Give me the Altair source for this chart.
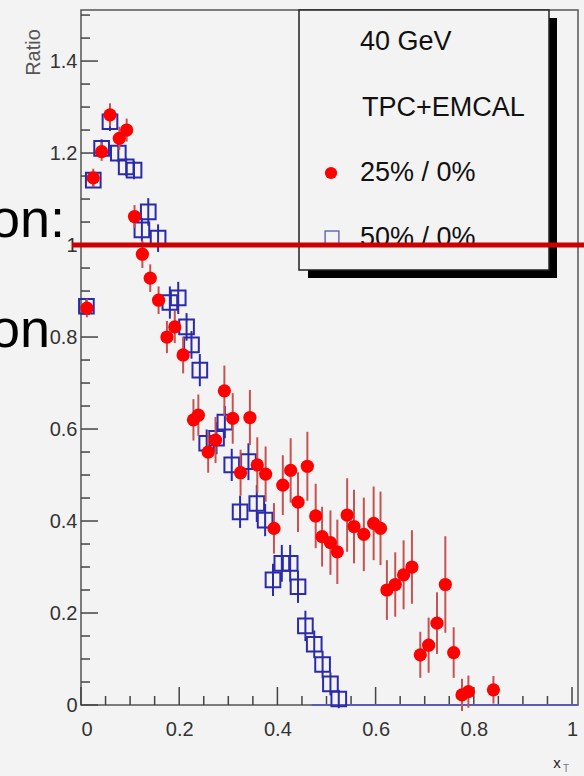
import altair as alt
import pandas as pd

# --- ratio data: 25%/0% centrality (red dots) ---
red_x = [0.012, 0.025, 0.042, 0.059, 0.078, 0.093, 0.109, 0.125, 0.141, 0.158,
         0.175, 0.191, 0.208, 0.229, 0.239, 0.259, 0.274, 0.292, 0.309, 0.325,
         0.344, 0.359, 0.376, 0.393, 0.411, 0.427, 0.442, 0.461, 0.478, 0.491,
         0.508, 0.522, 0.542, 0.556, 0.576, 0.596, 0.610, 0.623, 0.640, 0.657,
         0.674, 0.691, 0.708, 0.725, 0.742, 0.759, 0.776, 0.789, 0.840]
red_y = [0.863, 1.146, 1.203, 1.283, 1.232, 1.250, 1.062, 0.980, 0.928, 0.880,
         0.800, 0.822, 0.761, 0.620, 0.630, 0.550, 0.576, 0.683, 0.623, 0.505,
         0.625, 0.522, 0.502, 0.384, 0.478, 0.510, 0.441, 0.519, 0.411, 0.366,
         0.353, 0.333, 0.413, 0.388, 0.371, 0.395, 0.384, 0.250, 0.262, 0.283,
         0.300, 0.109, 0.130, 0.178, 0.262, 0.114, 0.022, 0.029, 0.033]
red_err = [0.020, 0.020, 0.020, 0.025, 0.025, 0.025, 0.025, 0.030, 0.030, 0.030,
           0.035, 0.035, 0.040, 0.045, 0.045, 0.045, 0.050, 0.055, 0.055, 0.050,
           0.060, 0.060, 0.060, 0.055, 0.065, 0.070, 0.065, 0.075, 0.070, 0.065,
           0.070, 0.070, 0.080, 0.080, 0.080, 0.080, 0.080, 0.065, 0.070, 0.075,
           0.080, 0.050, 0.060, 0.067, 0.105, 0.055, 0.035, 0.035, 0.030]

# --- ratio data: 50%/0% centrality (blue open squares) ---
blue_x = [0.011, 0.025, 0.042, 0.059, 0.076, 0.092, 0.108, 0.124, 0.137, 0.157,
          0.181, 0.198, 0.215, 0.225, 0.242, 0.256, 0.276, 0.293, 0.307, 0.324,
          0.341, 0.358, 0.375, 0.391, 0.409, 0.426, 0.442, 0.457, 0.475, 0.492,
          0.508, 0.525]
blue_y = [0.867, 1.141, 1.210, 1.268, 1.200, 1.170, 1.163, 1.033, 1.072, 1.015,
          0.875, 0.885, 0.822, 0.783, 0.728, 0.569, 0.580, 0.615, 0.522, 0.420,
          0.529, 0.438, 0.402, 0.272, 0.308, 0.308, 0.257, 0.172, 0.132, 0.088,
          0.046, 0.013]
blue_err = [0.015, 0.015, 0.020, 0.020, 0.020, 0.020, 0.020, 0.025, 0.030, 0.030,
            0.035, 0.035, 0.030, 0.030, 0.035, 0.030, 0.035, 0.035, 0.035, 0.035,
            0.040, 0.040, 0.035, 0.035, 0.040, 0.040, 0.035, 0.033, 0.030, 0.030,
            0.025, 0.020]

# axis ticks
x_major = [0, 0.2, 0.4, 0.6, 0.8, 1.0]
y_major = [0, 0.2, 0.4, 0.6, 0.8, 1.0, 1.2, 1.4]
x_minor = [0.05, 0.1, 0.15, 0.25, 0.3, 0.35, 0.45, 0.5, 0.55, 0.65, 0.7, 0.75,
           0.85, 0.9, 0.95]
y_minor = [0.05, 0.1, 0.15, 0.25, 0.3, 0.35, 0.45, 0.5, 0.55, 0.65, 0.7, 0.75,
           0.85, 0.9, 0.95, 1.05, 1.1, 1.15, 1.25, 1.3, 1.35, 1.45, 1.5]

W, H = 497, 695
FONT = "Liberation Sans"
BG = "#f3f3f3"

red = pd.DataFrame({"x": red_x, "y": red_y, "err": red_err})
red["lo"] = red["y"] - red["err"]
red["hi"] = red["y"] + red["err"]
blue = pd.DataFrame({"x": blue_x, "y": blue_y, "err": blue_err})
blue["lo"] = blue["y"] - blue["err"]
blue["hi"] = blue["y"] + blue["err"]
one = pd.DataFrame({"k": [0]})

xs = alt.Scale(domain=[0, 1.0122], nice=False, zero=False)
ys = alt.Scale(domain=[0, 1.511], nice=False, zero=False)

x_axis = alt.Axis(values=x_major, format="~g", tickSize=0, domain=False, grid=False,
                  labelFontSize=20, labelFont=FONT, labelColor="#333",
                  labelPadding=14, title=None)
y_axis = alt.Axis(values=y_major, format="~g", tickSize=0, domain=False, grid=False,
                  labelFontSize=20, labelFont=FONT, labelColor="#333",
                  labelPadding=4, title="Ratio", titleFont=FONT,
                  titleFontSize=20, titleFontWeight="normal", titleColor="#555",
                  titleAngle=270, titleX=-48, titleY=42,
                  titleAlign="center", titleBaseline="middle")


# every layer shares the same scale and axis definition
def X(field):
    return alt.X(field, scale=xs, axis=x_axis)


def Y(field):
    return alt.Y(field, scale=ys, axis=y_axis)


# inward pointing ticks
def xticks(vals, length):
    return alt.Chart(pd.DataFrame({"v": vals})).mark_rule(
        color="#444", strokeWidth=1.5).encode(
        x=X("v:Q"), y=alt.value(H), y2=alt.value(H - length))


def yticks(vals, length):
    return alt.Chart(pd.DataFrame({"v": vals})).mark_rule(
        color="#444", strokeWidth=1.5).encode(
        y=Y("v:Q"), x=alt.value(0), x2=alt.value(length))


ticks = xticks(x_major, 18) + xticks(x_minor, 9) + yticks(y_major, 17) + yticks(y_minor, 9)

# blue histogram baseline along zero
blue_base = alt.Chart(one).mark_rule(color="#5a5ab8", strokeWidth=2).encode(
    x=alt.datum(0.47, scale=xs, axis=x_axis), x2=alt.datum(1.0122),
    y=alt.datum(0, scale=ys, axis=y_axis))

blue_err_bars = alt.Chart(blue).mark_rule(color="#2b2baa", strokeWidth=2).encode(
    x=X("x:Q"), y=Y("lo:Q"), y2="hi:Q")
blue_pts = alt.Chart(blue).mark_point(
    shape="square", size=215, filled=False, color="#2b2baa", strokeWidth=2, opacity=1
).encode(x=X("x:Q"), y=Y("y:Q"))

red_err_bars = alt.Chart(red).mark_rule(color="#c45454", strokeWidth=2).encode(
    x=X("x:Q"), y=Y("lo:Q"), y2="hi:Q")
red_pts = alt.Chart(red).mark_circle(size=175, color="#ff0000", opacity=1).encode(
    x=X("x:Q"), y=Y("y:Q"))

# legend box with drop shadow
shadow = alt.Chart(one).mark_rect(color="#000000").encode(
    x=alt.value(227), x2=alt.value(476), y=alt.value(8), y2=alt.value(268))
box = alt.Chart(one).mark_rect(fill=BG, stroke="#222", strokeWidth=1.5).encode(
    x=alt.value(218), x2=alt.value(468), y=alt.value(0), y2=alt.value(260))


def label(txt, px, py, size=27, color="#111", align="left", baseline="middle", font=FONT):
    return alt.Chart(one).mark_text(
        text=txt, fontSize=size, font=font, color=color, align=align, baseline=baseline
    ).encode(x=alt.value(px), y=alt.value(py))


legend = (
    shadow + box
    + label("40 GeV", 279, 32)
    + label("TPC+EMCAL", 281, 98)
    + label("25% / 0%", 279, 163)
    + label("50% / 0%", 279, 228)
    + alt.Chart(one).mark_circle(size=150, color="#ff0000", opacity=1).encode(
        x=alt.value(250), y=alt.value(163))
    + alt.Chart(one).mark_point(shape="square", size=190, filled=False,
                                color="#6a6ab8", strokeWidth=1.5, opacity=1).encode(
        x=alt.value(251), y=alt.value(228))
)

# axis title x_T
xtitle = label("x", 476, 758, size=15, color="#222", align="center", baseline="alphabetic") \
    + label("T", 485, 762, size=10, color="#777", align="center", baseline="alphabetic")

# unity reference line
unity = alt.Chart(one).mark_rule(color="#cc0000", strokeWidth=5).encode(
    y=alt.datum(1, scale=ys, axis=y_axis), x=alt.value(-9), x2=alt.value(W + 12))

# slide text sitting left of the frame
side_text = label("on:", -16, 227, size=54, color="#000", align="right", baseline="alphabetic") \
    + label("on", -31, 337, size=54, color="#000", align="right", baseline="alphabetic")

chart = alt.layer(
    ticks, blue_base, blue_err_bars, blue_pts, red_err_bars, red_pts,
    legend, xtitle, side_text, unity
).properties(
    width=W, height=H,
    autosize=alt.AutoSizeParams(type="none"),
    padding={"left": 81, "top": 10, "right": 6, "bottom": 71},
    background=BG,
).configure_view(
    stroke="#555", strokeWidth=1.5, fill=BG
)

chart.save("out.html", embed_options={"renderer": "svg", "actions": False})
